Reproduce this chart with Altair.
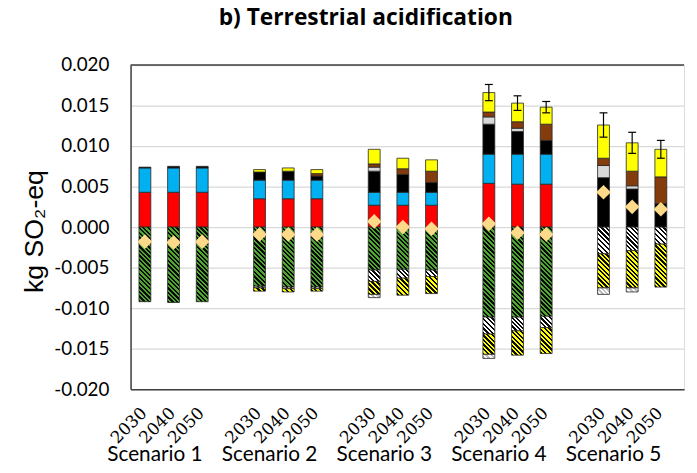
import altair as alt

# ---------------- data ----------------
scenarios = ["Scenario 1", "Scenario 2", "Scenario 3", "Scenario 4", "Scenario 5"]
years = ["2030", "2040", "2050"]

# positive contributions, 15 bars (S1 2030, 2040, 2050, S2 ..., S5 ...)
red    = [0.0043, 0.0043, 0.0043, 0.0035, 0.0035, 0.0035, 0.0027, 0.0027, 0.0027, 0.0054, 0.0053, 0.0053, 0.0, 0.0, 0.0]
blue   = [0.0030, 0.0030, 0.0030, 0.0023, 0.0023, 0.0023, 0.0016, 0.0016, 0.0016, 0.0036, 0.0037, 0.0037, 0.0, 0.0, 0.0]
black  = [0.0001, 0.0002, 0.0002, 0.0010, 0.0011, 0.0005, 0.0026, 0.0022, 0.0012, 0.0037, 0.0028, 0.0017, 0.0061, 0.0047, 0.0029]
lgray  = [0.0, 0.0, 0.0, 0.0, 0.0, 0.0, 0.0005, 0.0, 0.0, 0.0009, 0.0004, 0.0, 0.0015, 0.0004, 0.0]
brown  = [0.0, 0.0, 0.0, 0.0, 0.0, 0.0003, 0.0004, 0.0007, 0.0014, 0.0006, 0.0008, 0.0020, 0.0009, 0.0018, 0.0033]
yellow = [0.0, 0.0, 0.0, 0.0003, 0.0004, 0.0005, 0.0018, 0.0013, 0.0014, 0.0024, 0.0023, 0.0021, 0.0041, 0.0035, 0.0034]

# negative (avoided) contributions, hatched
green_h  = [-0.0092, -0.0093, -0.0092, -0.0073, -0.0074, -0.0074, -0.0053, -0.0052, -0.0053, -0.0111, -0.0111, -0.0110, 0.0, 0.0, 0.0]
white_h  = [0.0, 0.0, 0.0, -0.0002, -0.0002, -0.0002, -0.0014, -0.0011, -0.0008, -0.0021, -0.0017, -0.0014, -0.0033, -0.0029, -0.0021]
yellow_h = [0.0, 0.0, 0.0, -0.0004, -0.0004, -0.0003, -0.0016, -0.0021, -0.0021, -0.0025, -0.0030, -0.0032, -0.0042, -0.0046, -0.0053]
gray_h   = [0.0, 0.0, 0.0, 0.0, 0.0, 0.0, -0.0004, 0.0, 0.0, -0.0005, 0.0, 0.0, -0.0008, -0.0005, 0.0]

# net result (diamonds) and error (+/-) on the positive total
net = [-0.0018, -0.0019, -0.0018, -0.0009, -0.0009, -0.0009, 0.0007, 0.0000, -0.0002, 0.0004, -0.0007, -0.0009, 0.0043, 0.0025, 0.0022]
err = [0.0, 0.0, 0.0, 0.0, 0.0, 0.0, 0.0, 0.0, 0.0, 0.0010, 0.0009, 0.0007, 0.0015, 0.0013, 0.0011]

# ---------------- style ----------------
W, H = 560, 328
SLOT_PX = 29.0
BAR_W = 12
PX_PER_UNIT = H / 0.04
SCEN_LABEL_SHIFT = 0.35
HALF = BAR_W / 2.0 / SLOT_PX

def hatch(c1, c2, value, period=3.3):
    """Diagonal '\\' stripes as a linear gradient in the bar's own box."""
    h = abs(value) * PX_PER_UNIT
    w = float(BAR_W)
    s = (w + h) / (w * w + h * h)
    n = max(1, round((w + h) / (2 ** 0.5 * period)))
    stops = []
    for i in range(n):
        a, b, c = i / n, (i + 0.5) / n, (i + 1) / n
        stops += [{"offset": a, "color": c1}, {"offset": b, "color": c1},
                  {"offset": b, "color": c2}, {"offset": c, "color": c2}]
    return {"gradient": "linear", "x1": 1, "y1": 0, "x2": 1 - s * w, "y2": s * h, "stops": stops}

pos_series = [(red, "#FF0000"), (blue, "#00B0F0"), (black, "#000000"),
              (lgray, "#D9D9D9"), (brown, "#843C0C"), (yellow, "#FFFF00")]
neg_series = [(green_h, "#4FA82E", "#0A0A0A"), (white_h, "#FFFFFF", "#0A0A0A"),
              (yellow_h, "#FFFF00", "#0A0A0A"), (gray_h, "#FFFFFF", "#BFBFBF")]

seg_rows, net_rows, err_rows, cap_rows, year_rows = [], [], [], [], []
for b in range(15):
    slot = 4 * (b // 3) + b % 3
    year_rows.append({"slot": slot, "year": years[b % 3]})
    base = 0.0
    for arr, col in pos_series:
        v = arr[b]
        if v > 0:
            seg_rows.append({"slot": slot, "y0": base, "y1": base + v, "fill": col})
            base += v
    top = base
    base = 0.0
    for arr, c1, c2 in neg_series:
        v = arr[b]
        if v < 0:
            seg_rows.append({"slot": slot, "y0": base, "y1": base + v, "fill": hatch(c1, c2, v)})
            base += v
    net_rows.append({"slot": slot, "net": net[b]})
    if err[b] > 0:
        err_rows.append({"slot": slot, "lo": top - err[b], "hi": top + err[b]})
        cap_rows.append({"slot": slot, "v": top - err[b]})
        cap_rows.append({"slot": slot, "v": top + err[b]})

scen_rows = [{"scenario": s, "pos": 4 * i + SCEN_LABEL_SHIFT} for i, s in enumerate(scenarios)]

xscale = alt.Scale(domain=[-0.5, -0.5 + W / SLOT_PX], nice=False, zero=False)
yscale = alt.Scale(domain=[-0.02, 0.02], nice=False, zero=False)

x_axis = alt.Axis(
    labels=False, ticks=False, tickSize=0, grid=False, title=None,
    domainColor="#404040", domainWidth=1.5,
)
y_axis = alt.Axis(
    values=[-0.02, -0.015, -0.01, -0.005, 0.0, 0.005, 0.01, 0.015, 0.02],
    labelExpr="replace(format(datum.value, '.3f'), '\u2212', '-')",
    labelFont="Lato", labelFontSize=19, labelColor="#000000", labelPadding=22,
    ticks=False, tickSize=0, grid=True, gridColor="#D9D9D9", gridWidth=1.3,
    domainColor="#404040", domainWidth=1.5, labelOverlap=False,
    title="kg SO\u2082-eq", titleFont="Liberation Sans", titleFontSize=27,
    titleFontWeight="normal", titleColor="#000000", titleX=-97, titleY=H / 2 + 4,
    titleAngle=-90, titleAlign="center", titleBaseline="middle",
)

bars = alt.Chart(alt.Data(values=seg_rows)).transform_calculate(
    xa=f"datum.slot - {HALF}", xb=f"datum.slot + {HALF}"
).mark_bar(stroke="#262626", strokeWidth=0.8).encode(
    x=alt.X("xa:Q", scale=xscale, axis=x_axis),
    x2=alt.X2("xb:Q"),
    y=alt.Y("y0:Q", scale=yscale, axis=y_axis),
    y2=alt.Y2("y1:Q"),
    fill=alt.Fill("fill:N", scale=None),
)

diamonds = alt.Chart(alt.Data(values=net_rows)).mark_point(
    shape="diamond", filled=True, size=220, color="#FDD98A", opacity=1
).encode(x=alt.X("slot:Q", axis=x_axis), y=alt.Y("net:Q", axis=y_axis))

err_lines = alt.Chart(alt.Data(values=err_rows)).mark_rule(
    color="#000000", strokeWidth=1.2
).encode(x=alt.X("slot:Q", axis=x_axis), y=alt.Y("lo:Q", axis=y_axis), y2=alt.Y2("hi:Q"))

err_caps = alt.Chart(alt.Data(values=cap_rows)).mark_tick(
    orient="horizontal", size=8, thickness=1.2, color="#000000", opacity=1
).encode(x=alt.X("slot:Q", axis=x_axis), y=alt.Y("v:Q", axis=y_axis))

top_border = alt.Chart(alt.Data(values=[{"b": 1}])).mark_rule(
    color="#404040", strokeWidth=1.5
).encode(x=alt.value(0), x2=alt.value(W), y=alt.value(0))

year_text = alt.Chart(alt.Data(values=year_rows)).mark_text(
    font="DejaVu Serif", fontSize=17, color="#000000", angle=315,
    align="right", baseline="middle", dx=-1
).encode(x=alt.X("slot:Q", axis=x_axis), y=alt.value(H + 21), text=alt.Text("year:N"))

scen_text = alt.Chart(alt.Data(values=scen_rows)).mark_text(
    font="Lato", fontSize=21, color="#000000", align="center", baseline="middle"
).encode(x=alt.X("pos:Q", axis=x_axis), y=alt.value(395), text=alt.Text("scenario:N"))

chart = alt.layer(bars, diamonds, err_lines, err_caps, top_border, year_text, scen_text).properties(
    width=W, height=H,
    title=alt.Title("b) Terrestrial acidification", font="Open Sans", fontSize=23,
                    fontWeight="bold", color="#000000", anchor="middle",
                    dx=-42, offset=26),
    autosize=alt.AutoSizeParams(type="none"),
    padding={"left": 124, "top": 55, "right": 5, "bottom": 75},
).configure_view(strokeWidth=0).configure(background="#FFFFFF")

chart.save("out.html", embed_options={"renderer": "svg", "actions": False})
